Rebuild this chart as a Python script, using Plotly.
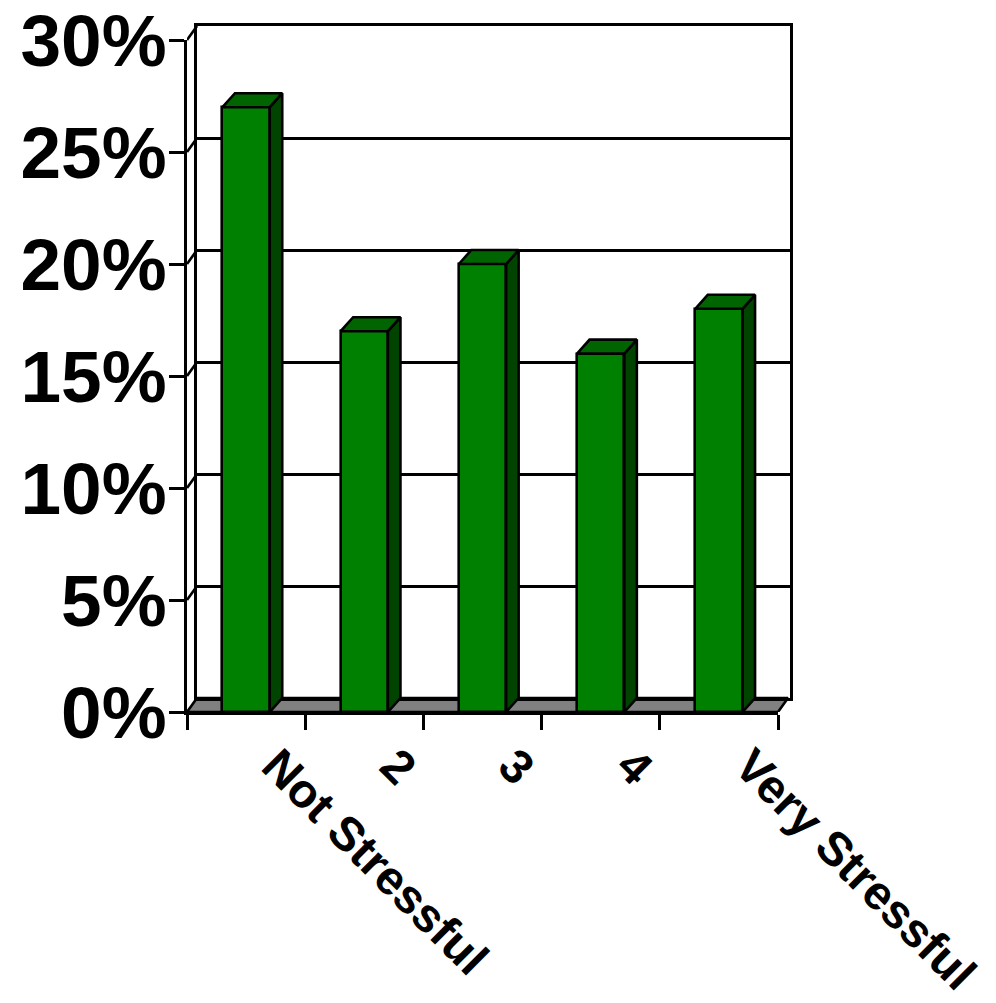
import plotly.graph_objects as go

# ---------------- data ----------------
categories = ["Not Stressful", "2", "3", "4", "Very Stressful"]
values = [27, 17, 20, 16, 18]          # percent
y_ticks = [0, 5, 10, 15, 20, 25, 30]
y_tick_labels = ["0%", "5%", "10%", "15%", "20%", "25%", "30%"]

# ---------------- style / geometry ----------------
W, H = 996, 1003
L, R, T, B = 187, 790, 26, 712        # outer plot box (px)
FRONT_W, FRONT_H = 591, 672            # front plane size (px)
WALL_DX, WALL_DY = 10, 14              # depth of floor / back wall (px)
BAR_DX, BAR_DY = 12.5, 14              # depth of the columns (px)
BAR_W = 0.4
LW = 2.6
FRONT = "#008000"
TOP = "#006400"
SIDE = "#004400"
FLOOR = "#808080"
FONT = "Liberation Sans, Arial, sans-serif"

PW, PH = R - L, B - T
n = len(categories)
y_max = y_ticks[-1]
xu = n / FRONT_W          # data units per px (x)
yu = y_max / FRONT_H      # data units per px (y)
wdx, wdy = WALL_DX * xu, WALL_DY * yu
bdx, bdy = BAR_DX * xu, BAR_DY * yu
x_full = [0.5, 0.5 + PW * xu]
y_full = [0, PH * yu]

fig = go.Figure()

# ---- subplot 1 (xy): floor ----
x0, x1 = 0.5, n + 0.5
fig.add_trace(go.Scatter(
    x=[x0, x1, x1 + wdx, x0 + wdx, x0], y=[0, 0, wdy, wdy, 0],
    mode="lines", fill="toself", fillcolor=FLOOR,
    line=dict(color="black", width=LW), hoverinfo="skip", showlegend=False,
    xaxis="x", yaxis="y"))

# ---- subplot 2 (x2y2): back wall with gridlines ----
fig.add_trace(go.Scatter(x=[None], y=[None], xaxis="x2", yaxis="y2",
                         showlegend=False, hoverinfo="skip"))

# ---- subplot 3 (x3y3): columns and left-wall lines ----
pos = [i + 1 for i in range(n)]
lx, ly = [], []
for v in y_ticks[1:]:
    lx += [x0, x0 + wdx, None]
    ly += [v, v + wdy, None]
fig.add_trace(go.Scatter(x=lx, y=ly, mode="lines",
                         line=dict(color="black", width=LW),
                         hoverinfo="skip", showlegend=False,
                         xaxis="x3", yaxis="y3"))
# front faces
fig.add_trace(go.Bar(x=pos, y=values, width=BAR_W,
                     marker=dict(color=FRONT, line=dict(color="black", width=LW)),
                     hoverinfo="skip", showlegend=False,
                     xaxis="x3", yaxis="y3"))
# side faces
sx, sy = [], []
for c, v in zip(pos, values):
    r = c + BAR_W / 2
    sx += [r, r + bdx, r + bdx, r, r, None]
    sy += [0, bdy, v + bdy, v, 0, None]
fig.add_trace(go.Scatter(x=sx, y=sy, mode="lines", fill="toself",
                         fillcolor=SIDE, line=dict(color="black", width=LW),
                         hoverinfo="skip", showlegend=False,
                         xaxis="x3", yaxis="y3"))
# top faces
tx, ty = [], []
for c, v in zip(pos, values):
    l, r = c - BAR_W / 2, c + BAR_W / 2
    tx += [l, r, r + bdx, l + bdx, l, None]
    ty += [v, v, v + bdy, v + bdy, v, None]
fig.add_trace(go.Scatter(x=tx, y=ty, mode="lines", fill="toself",
                         fillcolor=TOP, line=dict(color="black", width=LW),
                         hoverinfo="skip", showlegend=False,
                         xaxis="x3", yaxis="y3"))

# ---- subplot 4 (x4y4): front axes ----
fig.add_trace(go.Scatter(x=categories, y=[None] * n, mode="markers",
                         showlegend=False, hoverinfo="skip",
                         xaxis="x4", yaxis="y4"))

hidden = dict(showgrid=False, zeroline=False, showline=False,
              showticklabels=False, ticks="", fixedrange=True, automargin=False)

fig.update_layout(
    width=W, height=H, autosize=False,
    margin=dict(l=L, r=W - R, t=T, b=H - B, pad=0, autoexpand=False),
    paper_bgcolor="white", plot_bgcolor="rgba(0,0,0,0)",
    showlegend=False, bargap=0,
    font=dict(family=FONT, color="black"),
    xaxis=dict(domain=[0, 1], range=x_full, anchor="y", **hidden),
    yaxis=dict(domain=[0, 1], range=y_full, anchor="x", **hidden),
    xaxis2=dict(domain=[WALL_DX / PW, 1], range=[x0, x1], anchor="y2",
                showgrid=False, zeroline=False, showticklabels=False, ticks="",
                automargin=False,
                showline=True, mirror=True, linecolor="black", linewidth=LW),
    yaxis2=dict(domain=[WALL_DY / PH, 1], range=[0, y_max], anchor="x2",
                tickvals=y_ticks, showgrid=True, gridcolor="black", gridwidth=LW,
                zeroline=False, showticklabels=False, ticks="", automargin=False,
                showline=True, mirror=True, linecolor="black", linewidth=LW),
    xaxis3=dict(domain=[0, 1], range=x_full, anchor="y3", **hidden),
    yaxis3=dict(domain=[0, 1], range=y_full, anchor="x3", **hidden),
    xaxis4=dict(domain=[0, FRONT_W / PW], anchor="y4", type="category",
                categoryorder="array", categoryarray=categories,
                range=[-0.5, n - 0.5], tickson="boundaries",
                ticks="outside", ticklen=15, tickwidth=LW, tickcolor="black",
                showline=True, linecolor="black", linewidth=LW,
                showgrid=False, zeroline=False, tickangle=45, automargin=False,
                ticklabelshift=30, ticklabelstandoff=4,
                ticklabeloverflow="allow",
                tickfont=dict(family=FONT, size=47.5, weight="bold", color="black")),
    yaxis4=dict(domain=[0, FRONT_H / PH], anchor="x4", range=[0, y_max],
                tickvals=y_ticks, ticktext=y_tick_labels,
                ticks="outside", ticklen=15, tickwidth=LW, tickcolor="black",
                showline=True, linecolor="black", linewidth=LW,
                showgrid=False, zeroline=False, automargin=False,
                ticklabelstandoff=-12, ticklabeloverflow="allow",
                tickfont=dict(family=FONT, size=73, weight="bold", color="black")),
)

fig.write_html("out.html")
